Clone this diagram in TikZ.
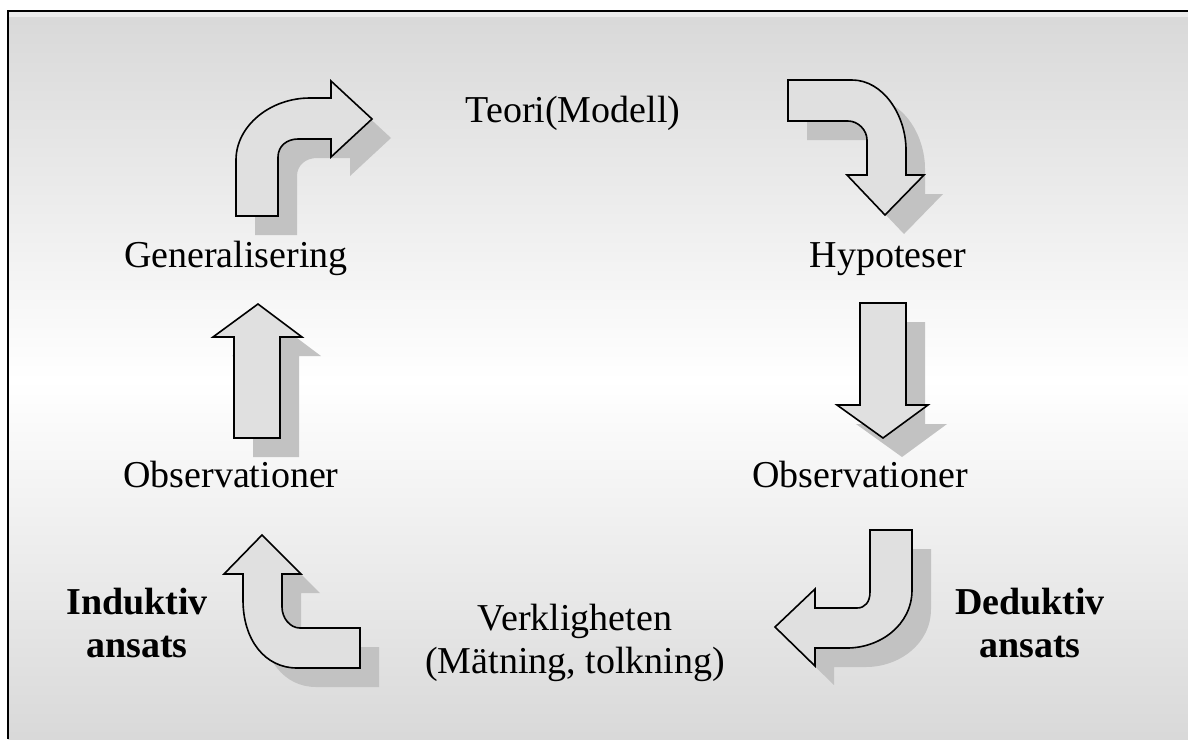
\documentclass[tikz,border=0pt]{standalone}
\usepackage{fontspec}
\setmainfont{Liberation Serif}
\newcommand\blockarrow[1]{%
  \fill[arrowshadow, shift={(19,19)}] #1;
  \filldraw[arrowbody] #1;}
\tikzset{
  arrowbody/.style={fill=black!12, draw=black, line width=1.6pt, line join=miter},
  arrowshadow/.style={fill=black!24},
  lbl/.style={inner sep=0pt, anchor=base, font=\fontsize{38}{44}\selectfont},
  side/.style={inner sep=0pt, anchor=base, font=\fontsize{38}{44}\selectfont\bfseries},
}
\begin{document}
\begin{tikzpicture}[x=1pt, y=-1pt]
\useasboundingbox (0,0) rectangle (1188,739);
% background: light band under the top rule, then grey-white-grey gradient
\fill[white] (0,0) rectangle (1188,739);
\fill[black!8] (8,11) rectangle (1188,17);
\shade[top color=black!15, bottom color=white] (8,17) rectangle (1188,380);
\shade[top color=white, bottom color=black!15] (8,380) rectangle (1188,739);
\draw[line width=2pt] (7.5,739) -- (7.5,10.5) -- (1188,10.5);

% upper left: bent arrow, up then right
\blockarrow{(236,216) -- (236,160) .. controls (236,126) and (270,98) .. (310,98)
  -- (331,98) -- (331,81) -- (372,119) -- (331,157) -- (331,139) -- (298,139)
  .. controls (287,139) and (278,146) .. (278,157) -- (278,216) -- cycle}
% upper right: bent arrow, right then down
\blockarrow{(788,80) -- (852,80) .. controls (883,80) and (906,115) .. (906,150)
  -- (906,175) -- (924,175) -- (885,215) -- (847,175) -- (867,175) -- (867,140)
  .. controls (867,130) and (858,121) .. (848,121) -- (788,121) -- cycle}
% left: straight arrow up
\blockarrow{(234,438) -- (234,337) -- (213,337) -- (258,304) -- (302,337)
  -- (280,337) -- (280,438) -- cycle}
% right: straight arrow down
\blockarrow{(860,303) -- (906,303) -- (906,405) -- (928,405) -- (883,438)
  -- (837,405) -- (860,405) -- cycle}
% lower left: bent arrow, left then up
\blockarrow{(360,628) -- (300,628) .. controls (290,628) and (282,618) .. (282,607)
  -- (282,574) -- (301,574) -- (262,535) -- (224,574) -- (243,574) -- (243,600)
  .. controls (243,640) and (265,668) .. (297,668) -- (360,668) -- cycle}
% lower right: bent arrow, down then left
\blockarrow{(870,530) -- (912,530) -- (912,590) .. controls (912,625) and (880,648) .. (847,648)
  -- (815,648) -- (815,666) -- (775,627) -- (815,589) -- (815,608) -- (857,608)
  .. controls (865,608) and (870,602) .. (870,592) -- cycle}

% cycle labels
\node[lbl] (teori) at (573,122) {Teori(Modell)};
\node[lbl] (hyp) at (888,267) {Hypoteser};
\node[lbl] (gen) at (236,267) {Generalisering};
\node[lbl] (obsL) at (231,487) {Observationer};
\node[lbl] (obsR) at (860,487) {Observationer};
\node[lbl] (verk) at (575,630) {Verkligheten};
\node[lbl] (mat) at (575,673) {(Mätning, tolkning)};
% approach labels
\node[side] (ind) at (137,614) {Induktiv};
\node[side] (indA) at (137,657) {ansats};
\node[side] (ded) at (1030,614) {Deduktiv};
\node[side] (dedA) at (1030,657) {ansats};
\end{tikzpicture}
\end{document}
